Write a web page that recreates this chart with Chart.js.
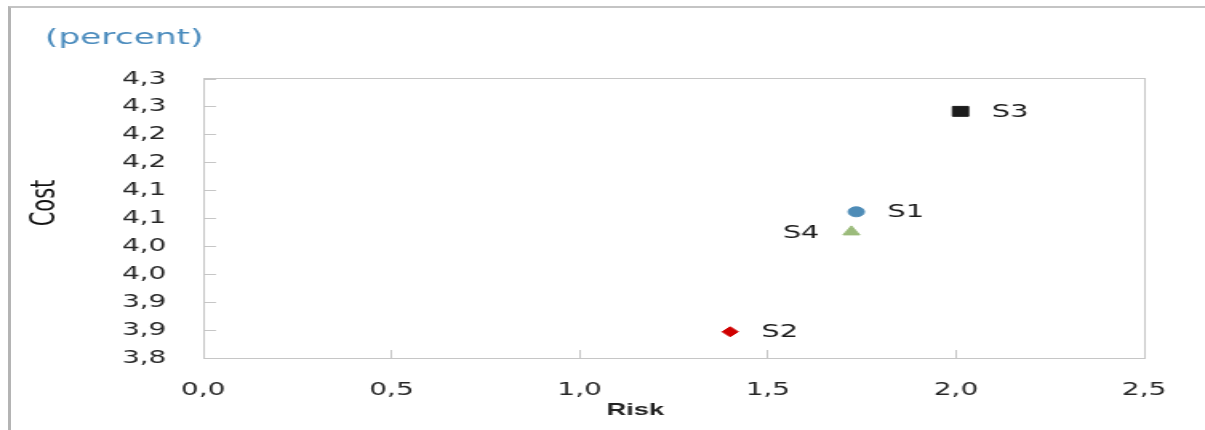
<!DOCTYPE html>
<html>
<head>
<meta charset="utf-8">
<script src="https://cdn.jsdelivr.net/npm/chart.js@4"></script>
<style>
  html, body { margin: 0; padding: 0; background: #fff; }
  body { width: 1205px; height: 430px; position: relative; overflow: hidden; }
  .frame {
    position: absolute; left: 8px; top: 6px; right: 0; bottom: 0;
    border-left: 3px solid #b4b4b4; border-top: 2px solid #c4c4c4;
  }
  #myChart { position: absolute; left: 0; top: 0; width: 1205px; height: 430px; }
</style>
</head>
<body>
<div class="frame"></div>
<!-- drawn narrow and stretched out wide -->
<canvas id="myChart" width="753" height="430" style="width:1205px;height:430px"></canvas>
<script>
var seriesNames = ['S1', 'S2', 'S3', 'S4'];
var riskValues = [1.735, 1.400, 2.012, 1.722];
var costValues = [4.062, 3.847, 4.242, 4.026];

var xTickValues = [0, 0.5, 1.0, 1.5, 2.0, 2.5];
var xTickLabels = ['0,0', '0,5', '1,0', '1,5', '2,0', '2,5'];
var yTickValues = [3.80, 3.85, 3.90, 3.95, 4.00, 4.05, 4.10, 4.15, 4.20, 4.25, 4.30];
var yTickLabels = ['3,8', '3,9', '3,9', '4,0', '4,0', '4,1', '4,1', '4,2', '4,2', '4,3', '4,3'];

var markers = [
    { style: 'circle', radius: 5, color: '#4e8cb7', side: 'right' },
    { style: 'rectRot', radius: 5, color: '#d00000', side: 'right' },
    { style: 'rect', radius: 7, color: '#1c1c1c', side: 'right' },
    { style: 'triangle', radius: 6, color: '#9bbb7b', side: 'left' }
];

var datasets = seriesNames.map(function (name, i) {
    return {
        label: name,
        data: [{ x: riskValues[i], y: costValues[i] }],
        pointStyle: markers[i].style,
        pointRadius: markers[i].radius,
        pointBackgroundColor: markers[i].color,
        pointBorderColor: markers[i].color,
        pointBorderWidth: 1,
        labelSide: markers[i].side
    };
});

var tickFont = { family: "'DejaVu Sans', sans-serif", size: 17.5 };
var lineColor = '#c6c6c6';

// plot box, series names beside the points, axis captions
var chartText = {
    id: 'chartText',
    beforeDatasetsDraw: function (chart) {
        var ctx = chart.ctx, a = chart.chartArea;
        ctx.save();
        ctx.strokeStyle = lineColor;
        ctx.lineWidth = 1;
        ctx.strokeRect(a.left + 0.5, a.top - 0.5, a.right - a.left, a.bottom - a.top + 1);
        ctx.restore();
    },
    afterDatasetsDraw: function (chart) {
        var ctx = chart.ctx;
        ctx.save();
        ctx.fillStyle = '#1a1a1a';
        ctx.font = "18px 'DejaVu Sans', sans-serif";
        ctx.textBaseline = 'middle';
        chart.data.datasets.forEach(function (ds, i) {
            var pt = chart.getDatasetMeta(i).data[0];
            if (ds.labelSide === 'left') {
                ctx.textAlign = 'right';
                ctx.fillText(ds.label, pt.x - 20, pt.y + 1);
            } else {
                ctx.textAlign = 'left';
                ctx.fillText(ds.label, pt.x + 19.5, pt.y + 1);
            }
        });

        ctx.fillStyle = '#4a8bbd';
        ctx.font = "21.5px 'DejaVu Sans', sans-serif";
        ctx.textAlign = 'left';
        ctx.fillText('(percent)', 28, 38);

        ctx.fillStyle = '#222';
        ctx.font = "bold 17px 'Liberation Sans', Arial, sans-serif";
        ctx.textAlign = 'center';
        ctx.fillText('Risk', 397, 410);

        ctx.fillStyle = '#111';
        ctx.font = "21px 'DejaVu Sans', sans-serif";
        ctx.translate(29, 203);
        ctx.rotate(-Math.PI / 2);
        ctx.fillText('Cost', 0, 0);
        ctx.restore();
    }
};

var ctx = document.getElementById('myChart').getContext('2d');
var myChart = new Chart(ctx, {
    type: 'scatter',
    data: { datasets: datasets },
    options: {
        responsive: false,
        animation: false,
        layout: { padding: { left: 0, right: 38, top: 79, bottom: 0 } },
        plugins: {
            legend: { display: false },
            tooltip: { enabled: false }
        },
        scales: {
            x: {
                type: 'linear',
                min: 0,
                max: 2.5,
                afterBuildTicks: function (scale) {
                    scale.ticks = xTickValues.map(function (v) { return { value: v }; });
                },
                afterFit: function (scale) {
                    scale.height = 72;
                    // label overhang is already covered by the layout padding
                    scale.paddingLeft = 0;
                    scale.paddingRight = 0;
                },
                ticks: {
                    color: '#262626',
                    font: tickFont,
                    padding: 30,
                    maxRotation: 0,
                    callback: function (value, index) { return xTickLabels[index]; }
                },
                grid: { drawOnChartArea: false, drawTicks: true, tickLength: -8, color: lineColor },
                border: { display: false }
            },
            y: {
                type: 'linear',
                min: 3.8,
                max: 4.3,
                afterBuildTicks: function (scale) {
                    scale.ticks = yTickValues.map(function (v) { return { value: v }; });
                },
                afterFit: function (scale) { scale.width = 127; },
                ticks: {
                    color: '#262626',
                    font: tickFont,
                    padding: 31,
                    callback: function (value, index) { return yTickLabels[index]; }
                },
                grid: { drawOnChartArea: false, drawTicks: true, tickLength: -8, color: lineColor },
                border: { display: false }
            }
        }
    },
    plugins: [chartText]
});
</script>
</body>
</html>
